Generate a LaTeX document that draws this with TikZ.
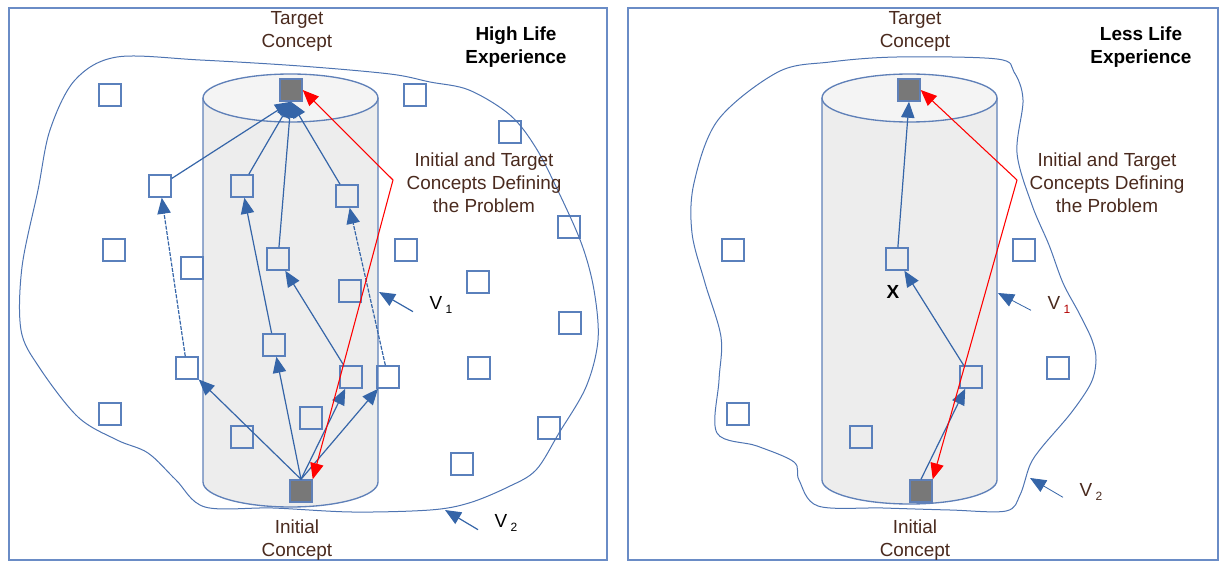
\documentclass[tikz,border=0pt]{standalone}
\usepackage{fontspec}
\setmainfont{Liberation Sans}
\usetikzlibrary{arrows.meta}
\definecolor{framec}{HTML}{6A8CC6}
\definecolor{blu}{HTML}{3565A8}
\definecolor{sqc}{HTML}{5A80BC}
\definecolor{cylf}{HTML}{EDEDED}
\definecolor{cyltop}{HTML}{F4F4F4}
\definecolor{cyle}{HTML}{5F80B8}
\definecolor{txt}{HTML}{4A2A1E}
\definecolor{tgt}{HTML}{787878}
\definecolor{blobc}{HTML}{4E74B2}
\begin{document}
\begin{tikzpicture}[x=0.75pt,y=-0.75pt,
  sq/.style={draw=sqc,line width=1.1pt,minimum size=16.5pt,inner sep=0pt},
  sqf/.style={sq,fill=tgt,draw=cyle},
  arr/.style={draw=blu,line width=0.9pt,-{Triangle[length=12pt,width=10pt]}},
  dsh/.style={dash pattern=on 3pt off 1pt},
  redarr/.style={draw=red,line width=0.8pt,-{Triangle[length=12pt,width=10pt]}},
  lbl/.style={text=txt,align=center,font=\fontsize{14.2}{17.2}\selectfont},
  ttl/.style={align=center,font=\fontsize{14.2}{17.2}\selectfont\bfseries},
  vlbl/.style={font=\fontsize{14.2}{17.2}\selectfont},
  blobline/.style={draw=blobc,line width=0.75pt},
  cyl/.style={draw=cyle,line width=1pt,fill=cylf},
  panel/.style={draw=framec,line width=1.1pt},
]
\useasboundingbox (0,0) rectangle (1220,563);
% panels
\draw[panel] (9,8) rectangle (607,560);
\draw[panel] (628,8) rectangle (1218,560);

% ---------- left cylinder ----------
\path[cyl] (203,98) -- (203,482) .. controls (203,495.8) and (242.2,507) .. (290.5,507)
  .. controls (338.8,507) and (378,495.8) .. (378,482) -- (378,98);
\draw[cyl,fill=cyltop] (290.5,98) ellipse [x radius=87.5,y radius=24];

% ---------- right cylinder ----------
\path[cyl] (822,98) -- (822,480) .. controls (822,493.2) and (861.2,504) .. (909.5,504)
  .. controls (957.8,504) and (997,493.2) .. (997,480) -- (997,98);
\draw[cyl,fill=cyltop] (909.5,98) ellipse [x radius=87.5,y radius=24];

% ---------- left nodes ----------
\node[sqf] (T) at (291,90) {};
\node[sqf] (I) at (301,491) {};
\node[sq] (l1) at (110,95) {};
\node[sq] (l2) at (415,95) {};
\node[sq] (l3) at (510,132) {};
\node[sq] (a1) at (160,186) {};
\node[sq] (a2) at (242,186) {};
\node[sq] (a3) at (347,196) {};
\node[sq] (l4) at (114,250) {};
\node[sq] (l5) at (192,268) {};
\node[sq] (b1) at (278,259) {};
\node[sq] (l6) at (406,250) {};
\node[sq] (l7) at (569,227) {};
\node[sq] (l8) at (350,291) {};
\node[sq] (l9) at (478,282) {};
\node[sq] (l10) at (570,323) {};
\node[sq] (c1) at (274,345) {};
\node[sq] (c2) at (187,368) {};
\node[sq] (c3) at (351,377) {};
\node[sq] (c4) at (388,377) {};
\node[sq] (l11) at (479,368) {};
\node[sq] (l12) at (110,414) {};
\node[sq] (l13) at (311,418) {};
\node[sq] (l14) at (242,437) {};
\node[sq] (l15) at (549,428) {};
\node[sq] (l16) at (462,464) {};

% ---------- right nodes ----------
\node[sqf] (T2) at (909,90) {};
\node[sqf] (I2) at (921,491) {};
\node[sq] (x1) at (897,259) {};
\node[sq] (m1) at (971,377) {};
\node[sq] (r1) at (733,250) {};
\node[sq] (r2) at (1024,250) {};
\node[sq] (r3) at (1058,368) {};
\node[sq] (r4) at (738,414) {};
\node[sq] (r5) at (861,437) {};

% ---------- blobs (V2) ----------
\draw[blobline] plot[smooth cycle,tension=0.55] coordinates {
  (117,57) (200,60) (300,66) (390,74) (430,82) (469,90) (510,115) (536,148)
  (560,195) (582,245) (594,290) (598,340) (586,387) (559,433) (536,470)
  (508,487) (469,503) (430,510) (352,512) (273,508) (205,507) (176,480)
  (148,453) (117,440) (78,417) (39,367) (21,330) (22,267) (38,190) (50,130) (75,80)};
\draw[blobline] plot[smooth cycle,tension=0.55] coordinates {
  (778,72) (830,62) (897,57) (997,59) (1014,72) (1023,100) (1017,153)
  (1032,205) (1049,245) (1063,283) (1079,313) (1092,340) (1096,360)
  (1091,383) (1071,413) (1042,447) (1030,465) (1020,495) (1006,511)
  (950,510) (883,508) (818,506) (799,480) (794,462) (757,446) (717,433)
  (719,380) (721,337) (705,283) (692,233) (694,183) (718,120)};

% ---------- left connectors ----------
\draw[arr] (I.north) -- (c2);
\draw[arr] (I.north) -- (c1);
\draw[arr] (I.north) -- (c3);
\draw[arr] (I.north) -- (c4);
\draw[arr,dsh] (c2) -- (a1);
\draw[arr] (c1) -- (a2);
\draw[arr] (c3) -- (b1);
\draw[arr,dsh] (c4) -- (a3);
\draw[arr] (a1) -- (T.south);
\draw[arr] (a2) -- (T.south);
\draw[arr] (b1) -- (T.south);
\draw[arr] (a3) -- (T.south);
\coordinate (R) at (393,180);
\draw[redarr] (R) -- (T.east);
\draw[redarr] (R) -- (I.north east);

% ---------- right connectors ----------
\draw[arr] (I2.north) -- (m1);
\draw[arr] (m1) -- (x1);
\draw[arr] (x1) -- (T2.south);
\coordinate (R2) at (1017,180);
\draw[redarr] (R2) -- (T2.east);
\draw[redarr] (R2) -- (I2.north east);

% ---------- texts ----------
\node[lbl] (tc1) at (297,31) {Target\\Concept};
\node[ttl] (h1) at (516,47) {High Life\\Experience};
\node[lbl] (p1) at (484,183) {Initial and Target\\Concepts Defining\\the Problem};
\node[lbl] (ic1) at (297,540) {Initial\\Concept};
\node[lbl] (tc2) at (915,31) {Target\\Concept};
\node[ttl] (h2) at (1141,47) {Less Life\\Experience};
\node[lbl] (p2) at (1107,183) {Initial and Target\\Concepts Defining\\the Problem};
\node[lbl] (ic2) at (915,540) {Initial\\Concept};
\node[font=\fontsize{14.2}{17.2}\selectfont\bfseries] (xl) at (893,292) {X};

% V labels and arrows
\node[vlbl,anchor=west] (v1) at (425,305) {V\,\raisebox{-0.35ex}{\fontsize{9}{9}\selectfont 1}};
\node[vlbl,anchor=west] (v2) at (490,523) {V\,\raisebox{-0.35ex}{\fontsize{9}{9}\selectfont 2}};
\node[vlbl,anchor=west,text=txt] (v3) at (1043,305) {V\,\raisebox{-0.35ex}{\fontsize{9}{9}\selectfont\color{red!70!black} 1}};
\node[vlbl,anchor=west,text=txt] (v4) at (1075,492) {V\,\raisebox{-0.35ex}{\fontsize{9}{9}\selectfont 2}};
\coordinate (v1h) at (379,292);
\coordinate (v2h) at (445,510);
\coordinate (v3h) at (998,293);
\coordinate (v4h) at (1030,478);
\draw[arr] ([xshift=-9pt,yshift=-5pt]v1.west) -- (v1h);
\draw[arr] ([xshift=-9pt,yshift=-5pt]v2.west) -- (v2h);
\draw[arr,line width=0.6pt] ([xshift=-9pt,yshift=-4pt]v3.west) -- (v3h);
\draw[arr,line width=0.6pt] ([xshift=-9pt,yshift=-4pt]v4.west) -- (v4h);
\end{tikzpicture}
\end{document}
